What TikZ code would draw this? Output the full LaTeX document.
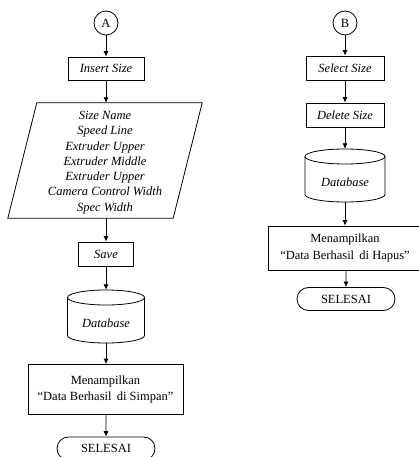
\documentclass[tikz,border=0pt]{standalone}
\usepackage{fontspec}
\setmainfont{Liberation Serif}
\usetikzlibrary{shapes.misc,arrows.meta}
\begin{document}
\begin{tikzpicture}[x=1pt,y=-1pt,
  every node/.style={font=\fontsize{12.5}{15.3}\selectfont},
  proc/.style={draw,line width=0.8pt,inner sep=0pt,align=center},
  msgbox/.style={proc,font=\fontsize{12.5}{16.5}\selectfont},
  conn/.style={draw,circle,line width=0.8pt,minimum size=24pt,inner sep=0pt},
  term/.style={draw,rounded rectangle,line width=0.8pt,minimum width=98pt,minimum height=23pt,inner sep=0pt},
  ghost/.style={inner sep=0pt,align=center},
  arr/.style={line width=0.8pt,-{Latex[length=5.5pt,width=5pt]}},
  shp/.style={line width=0.8pt}]
\useasboundingbox (0,0) rectangle (419,457);
\clip (0,0) rectangle (419,457);
% ---------- left column ----------
\node[conn] (A) at (106,23) {A};
\node[proc,minimum width=76pt,minimum height=23pt] (ins) at (106,68.5) {\itshape Insert Size};
\node[ghost,minimum width=165pt,minimum height=115pt] (io) at (105,160.5) {};
\node[ghost] (iotext) at (105,162.5) {\itshape Size Name\\\itshape Speed Line\\\itshape Extruder Upper\\\itshape Extruder Middle\\\itshape Extruder Upper\\\itshape Camera Control Width\\\itshape Spec Width};
\draw[shp] ([xshift=14.5pt]io.north west) -- ([xshift=14.5pt]io.north east) -- ([xshift=-14.5pt]io.south east) -- ([xshift=-14.5pt]io.south west) -- cycle;
\node[proc,minimum width=55pt,minimum height=24pt] (save) at (106,254) {\itshape Save};
\node[ghost,minimum width=77pt,minimum height=53pt,label={[font=\fontsize{12.5}{15.3}\selectfont\itshape,yshift=-6.5pt]center:Database}] (db1) at (106,316.5) {};
\draw[shp] (106,297.5) ellipse [x radius=38.5pt,y radius=7.5pt];
\draw[shp] (67.5,297.5) -- (67.5,335.5) arc[start angle=180,end angle=360,x radius=38.5pt,y radius=7.5pt] -- (144.5,297.5);
\node[msgbox,minimum width=155pt,minimum height=50pt] (msg1) at (105.5,389.5) {Menampilkan\\“Data Berhasil\, di Simpan”};
\node[term] (end1) at (106,448.5) {SELESAI};
\draw[arr] (A) -- (ins);
\draw[arr] (ins) -- (io.north -| ins);
\draw[arr] (io.south -| ins) -- (save);
\draw[arr] (save) -- (db1);
\draw[arr] (db1) -- (msg1.north -| db1);
\draw[arr] (msg1.south -| end1) -- (end1);
% ---------- right column ----------
\node[conn] (B) at (345,23) {B};
\node[proc,minimum width=78pt,minimum height=24pt] (sel) at (345,68) {\itshape Select Size};
\node[proc,minimum width=78pt,minimum height=24pt] (del) at (345,115) {\itshape Delete Size};
\node[ghost,minimum width=80pt,minimum height=53pt,label={[font=\fontsize{12.5}{15.3}\selectfont\itshape,yshift=-6.5pt]center:Database}] (db2) at (345,175.5) {};
\draw[shp] (345,156.5) ellipse [x radius=40pt,y radius=7.5pt];
\draw[shp] (305,156.5) -- (305,194.5) arc[start angle=180,end angle=360,x radius=40pt,y radius=7.5pt] -- (385,156.5);
\node[msgbox,minimum width=154pt,minimum height=44pt] (msg2) at (345,248) {Menampilkan\\“Data Berhasil\, di Hapus”};
\node[term] (end2) at (346,299) {SELESAI};
\draw[arr] (B) -- (sel);
\draw[arr] (sel) -- (del);
\draw[arr] (del) -- (db2);
\draw[arr] (db2) -- (msg2.north -| db2);
\draw[arr] (msg2.south -| end2) -- (end2);
\end{tikzpicture}
\end{document}
